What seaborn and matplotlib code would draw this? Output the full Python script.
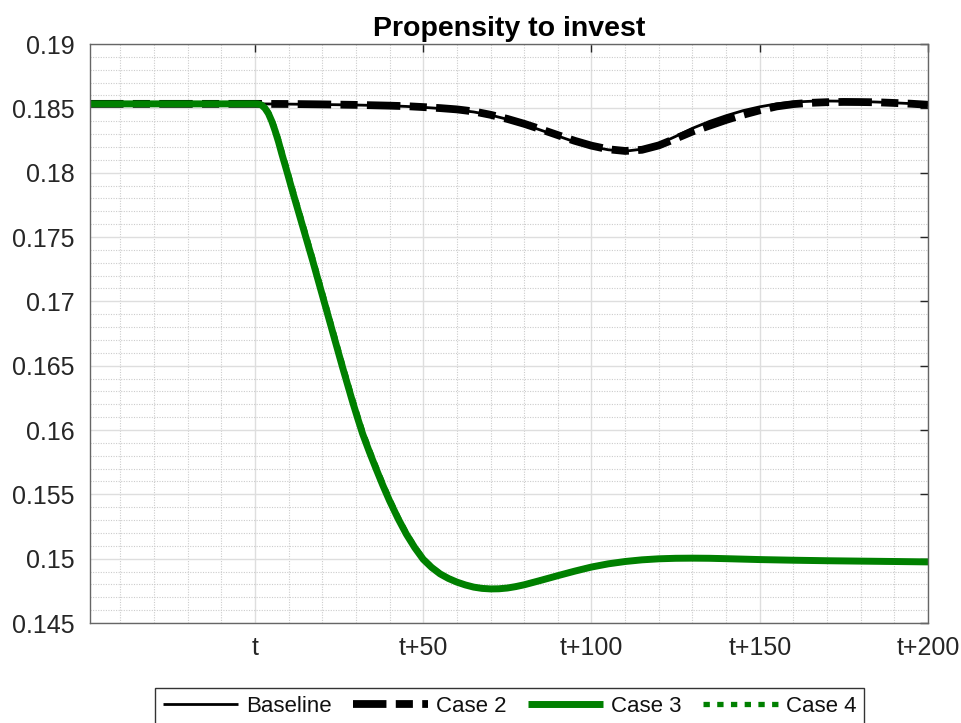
import matplotlib
matplotlib.use("Agg")
import matplotlib.pyplot as plt
from matplotlib.ticker import MultipleLocator, FixedLocator
import seaborn as sns
import pandas as pd

# Periods relative to the shock date t
baseline_k = [-49, 0, 10, 20, 30, 40, 45, 50, 55, 60, 65, 70, 75, 80, 85, 90,
              95, 100, 105, 110, 115, 120, 125, 130, 135, 140, 145, 150, 155,
              160, 165, 170, 175, 180, 185, 190, 195, 200]
baseline_v = [0.18535, 0.18535, 0.18533, 0.18530, 0.18526, 0.18520, 0.18515,
              0.18508, 0.18499, 0.18488, 0.18472, 0.18448, 0.18415, 0.18375,
              0.18330, 0.18285, 0.18240, 0.18203, 0.18178, 0.18167, 0.18183,
              0.18222, 0.18282, 0.18345, 0.18398, 0.18443, 0.18482, 0.18512,
              0.18535, 0.18549, 0.18555, 0.18557, 0.18556, 0.18553, 0.18549,
              0.18543, 0.18537, 0.18530]

case2_k = [-49, 0, 10, 20, 30, 40, 45, 50, 55, 60, 65, 70, 75, 80, 85, 90, 95,
           100, 105, 110, 115, 120, 125, 130, 135, 140, 145, 150, 155, 160,
           165, 170, 175, 180, 185, 190, 195, 200]
case2_v = [0.18535, 0.18535, 0.18534, 0.18531, 0.18527, 0.18521, 0.18517,
           0.18510, 0.18502, 0.18492, 0.18476, 0.18450, 0.18418, 0.18380,
           0.18337, 0.18292, 0.18248, 0.18210, 0.18182, 0.18169, 0.18178,
           0.18212, 0.18265, 0.18320, 0.18365, 0.18410, 0.18450, 0.18485,
           0.18515, 0.18533, 0.18543, 0.18548, 0.18550, 0.18549, 0.18547,
           0.18542, 0.18536, 0.18528]

case3_k = [-49, 0, 1, 2, 3, 4, 5, 6, 7, 8, 9.5, 11, 12.5, 14, 15.5, 17, 18.5,
           20, 21.5, 23, 24.5, 26, 27.5, 29, 30.5, 32, 34, 36, 38, 40, 42.5,
           45, 47.5, 50, 52.5, 55, 57.5, 60, 62.5, 65, 67.5, 70, 72.5, 75,
           77.5, 80, 85, 90, 95, 100, 105, 110, 115, 120, 125, 130, 135, 140,
           150, 160, 170, 180, 190, 200]
case3_v = [0.18535, 0.18535, 0.18534, 0.18525, 0.18500, 0.18460, 0.18400,
           0.18325, 0.18240, 0.18145, 0.18010, 0.17870, 0.17735, 0.17600,
           0.17465, 0.17330, 0.17190, 0.17050, 0.16910, 0.16770, 0.16630,
           0.16490, 0.16355, 0.16220, 0.16093, 0.15970, 0.15830, 0.15698,
           0.15570, 0.15450, 0.15313, 0.15190, 0.15085, 0.14995, 0.14932,
           0.14882, 0.14846, 0.14818, 0.14796, 0.14779, 0.14769, 0.14765,
           0.14766, 0.14772, 0.14783, 0.14797, 0.14832, 0.14868, 0.14903,
           0.14935, 0.14960, 0.14978, 0.14991, 0.14999, 0.15003, 0.15004,
           0.15003, 0.15000, 0.14993, 0.14988, 0.14984, 0.14981, 0.14978,
           0.14975]

case4_k = case3_k
case4_v = [0.18535, 0.18535, 0.18534, 0.18527, 0.18505, 0.18470, 0.18415,
           0.18343, 0.18260, 0.18167, 0.18032, 0.17892, 0.17757, 0.17622,
           0.17487, 0.17352, 0.17212, 0.17072, 0.16932, 0.16792, 0.16652,
           0.16512, 0.16377, 0.16242, 0.16114, 0.15990, 0.15849, 0.15716,
           0.15586, 0.15464, 0.15325, 0.15200, 0.15093, 0.15001, 0.14936,
           0.14885, 0.14848, 0.14819, 0.14797, 0.14780, 0.14770, 0.14766,
           0.14767, 0.14773, 0.14784, 0.14798, 0.14833, 0.14869, 0.14904,
           0.14936, 0.14960, 0.14978, 0.14991, 0.14999, 0.15003, 0.15004,
           0.15003, 0.15000, 0.14993, 0.14988, 0.14984, 0.14981, 0.14978,
           0.14975]

x_ticks = [0, 50, 100, 150, 200]
x_tick_labels = ["t", "t+50", "t+100", "t+150", "t+200"]

sns.set_theme(style="white")
plt.rcParams["font.family"] = ["Liberation Sans", "DejaVu Sans"]

fig = plt.figure(figsize=(9.62, 7.23), dpi=100)
ax = fig.add_axes([0.0936, 0.1383, 0.8711, 0.8008])

series = [
    ("Baseline", baseline_k, baseline_v, dict(color="black", lw=2.0, ls="-")),
    ("Case 2", case2_k, case2_v,
     dict(color="black", lw=5.6, ls=(0, (4.3, 1.2, 2.2, 1.2)))),
    ("Case 3", case3_k, case3_v, dict(color="#008000", lw=5.0, ls="-")),
    ("Case 4", case4_k, case4_v,
     dict(color="#008000", lw=3.8, ls=(0, (1.2, 1.4)))),
]

for name, k, v, style in series:
    df = pd.DataFrame({"period": k, "value": v})
    sns.lineplot(data=df, x="period", y="value", ax=ax, label=name,
                 estimator=None, sort=False, legend=False,
                 solid_capstyle="butt", dash_capstyle="butt",
                 solid_joinstyle="round", **style)

ax.set_xlim(-49, 200)
ax.set_ylim(0.145, 0.19)
ax.xaxis.set_major_locator(FixedLocator(x_ticks))
ax.set_xticklabels(x_tick_labels)
ax.xaxis.set_minor_locator(MultipleLocator(10))
ax.yaxis.set_major_locator(MultipleLocator(0.005))
ax.yaxis.set_minor_locator(MultipleLocator(0.001))
ax.set_yticklabels([f"{t:g}" for t in ax.get_yticks()])
ax.set_xlabel("")
ax.set_ylabel("")

ax.grid(which="major", color="#dedede", lw=1.0, ls="-")
ax.grid(which="minor", color="#cccccc", lw=0.8, ls=(0, (1, 1.3)))
ax.set_axisbelow(True)

ax.tick_params(which="both", direction="in", top=True, right=True,
               color="#262626", labelsize=18, labelcolor="#262626")
ax.tick_params(which="major", length=6, width=1, pad=9)
ax.tick_params(which="minor", length=0)
ax.tick_params(axis="y", pad=11)
for sp in ax.spines.values():
    sp.set_color("#666666")
    sp.set_linewidth(1.0)

ax.set_title("Propensity to invest", fontsize=20.5, fontweight="bold",
             color="black", pad=6)

handles, labels = ax.get_legend_handles_labels()
leg = fig.legend(handles, labels, loc="upper center",
                 bbox_to_anchor=(0.5296, 1 - 688 / 723), ncol=4,
                 frameon=True, fancybox=False, fontsize=16,
                 handlelength=3.4, handletextpad=0.35, columnspacing=0.95,
                 borderpad=0.35, borderaxespad=0)
leg.get_frame().set_edgecolor("#333333")
leg.get_frame().set_linewidth(1.0)
leg.get_frame().set_alpha(1)
for t in leg.get_texts():
    t.set_color("#111111")

fig.savefig("out.png", dpi=100)
